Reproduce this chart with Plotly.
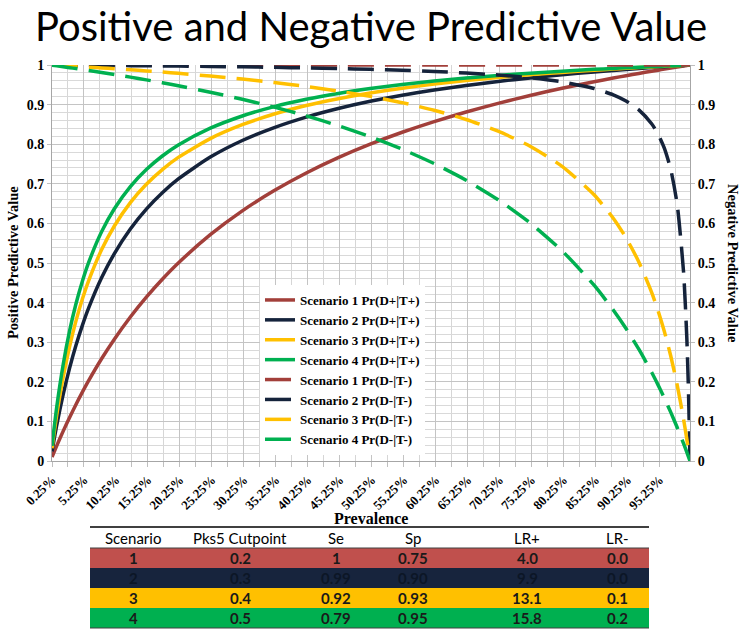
import plotly.graph_objects as go

# ---------------- data ----------------
prevalence = [0.25, 1, 2, 3, 4, 5, 6, 8, 10, 12.5, 15, 17.5, 20, 25, 30, 35, 40, 45, 50,
              55, 60, 65, 70, 75, 80, 85, 88, 90, 92, 94, 95, 96, 97, 98, 99, 99.5, 99.75, 100]

ppv1 = [0.0099, 0.0388, 0.0755, 0.1101, 0.1429, 0.1739, 0.2034, 0.2581, 0.3077, 0.3636, 0.4138,
        0.4590, 0.5000, 0.5714, 0.6316, 0.6829, 0.7273, 0.7660, 0.8000, 0.8302, 0.8571, 0.8814,
        0.9032, 0.9231, 0.9412, 0.9577, 0.9670, 0.9730, 0.9787, 0.9843, 0.9870, 0.9897, 0.9923,
        0.9949, 0.9975, 0.9987, 0.9994, 1.0]
ppv2 = [0.0242, 0.0909, 0.1681, 0.2344, 0.2920, 0.3426, 0.3872, 0.4626, 0.5238, 0.5858, 0.6360,
        0.6774, 0.7122, 0.7674, 0.8093, 0.8420, 0.8684, 0.8901, 0.9083, 0.9237, 0.9369, 0.9484,
        0.9585, 0.9674, 0.9754, 0.9825, 0.9864, 0.9889, 0.9913, 0.9936, 0.9947, 0.9958, 0.9969,
        0.9979, 0.9990, 0.9995, 0.9997, 1.0]
ppv3 = [0.0319, 0.1172, 0.2115, 0.2890, 0.3538, 0.4089, 0.4562, 0.5333, 0.5935, 0.6525, 0.6987,
        0.7360, 0.7667, 0.8142, 0.8492, 0.8762, 0.8976, 0.9149, 0.9293, 0.9414, 0.9517, 0.9606,
        0.9684, 0.9753, 0.9813, 0.9868, 0.9897, 0.9916, 0.9934, 0.9952, 0.9960, 0.9968, 0.9977,
        0.9984, 0.9992, 0.9996, 0.9998, 1.0]
ppv4 = [0.0381, 0.1376, 0.2438, 0.3283, 0.3970, 0.4540, 0.5021, 0.5788, 0.6371, 0.6930, 0.7360,
        0.7702, 0.7980, 0.8404, 0.8713, 0.8948, 0.9133, 0.9282, 0.9405, 0.9508, 0.9595, 0.9670,
        0.9736, 0.9793, 0.9844, 0.9890, 0.9914, 0.9930, 0.9945, 0.9960, 0.9967, 0.9974, 0.9980,
        0.9987, 0.9994, 0.9997, 0.9998, 1.0]

npv1 = [1.0, 1.0, 1.0, 1.0, 1.0, 1.0, 1.0, 1.0, 1.0, 1.0, 1.0, 1.0, 1.0, 1.0, 1.0, 1.0, 1.0, 1.0,
        1.0, 1.0, 1.0, 1.0, 1.0, 1.0, 1.0, 1.0, 1.0, 1.0, 1.0, 1.0, 1.0, 1.0, 1.0, 1.0, 1.0, 1.0,
        1.0, 1.0]
npv2 = [1.0000, 0.9999, 0.9998, 0.9997, 0.9995, 0.9994, 0.9993, 0.9990, 0.9988, 0.9984, 0.9980,
        0.9977, 0.9972, 0.9963, 0.9953, 0.9941, 0.9926, 0.9910, 0.9890, 0.9866, 0.9836, 0.9798,
        0.9747, 0.9677, 0.9574, 0.9408, 0.9247, 0.9091, 0.8867, 0.8517, 0.8257, 0.7895, 0.7357,
        0.6475, 0.4762, 0.3114, 0.1841, 0.0]
npv3 = [0.9998, 0.9991, 0.9982, 0.9974, 0.9964, 0.9955, 0.9945, 0.9926, 0.9905, 0.9879, 0.9851,
        0.9821, 0.9789, 0.9721, 0.9644, 0.9557, 0.9458, 0.9342, 0.9208, 0.9049, 0.8857, 0.8623,
        0.8328, 0.7949, 0.7440, 0.6723, 0.6132, 0.5636, 0.5027, 0.4260, 0.3796, 0.3263, 0.2645,
        0.1918, 0.1051, 0.0552, 0.0283, 0.0]
npv4 = [0.9995, 0.9978, 0.9955, 0.9932, 0.9909, 0.9885, 0.9861, 0.9811, 0.9760, 0.9694, 0.9625,
        0.9552, 0.9476, 0.9314, 0.9135, 0.8936, 0.8716, 0.8468, 0.8190, 0.7873, 0.7510, 0.7090,
        0.6597, 0.6013, 0.5307, 0.4439, 0.3815, 0.3345, 0.2823, 0.2241, 0.1923, 0.1586, 0.1227,
        0.0845, 0.0437, 0.0222, 0.0112, 0.0]

x_tickvals = [0.25, 5.25, 10.25, 15.25, 20.25, 25.25, 30.25, 35.25, 40.25, 45.25,
              50.25, 55.25, 60.25, 65.25, 70.25, 75.25, 80.25, 85.25, 90.25, 95.25]
x_ticktext = ["0.25%", "5.25%", "10.25%", "15.25%", "20.25%", "25.25%", "30.25%", "35.25%",
              "40.25%", "45.25%", "50.25%", "55.25%", "60.25%", "65.25%", "70.25%", "75.25%",
              "80.25%", "85.25%", "90.25%", "95.25%"]
y_tickvals = [0, 0.1, 0.2, 0.3, 0.4, 0.5, 0.6, 0.7, 0.8, 0.9, 1]
y_ticktext = ["0", "0.1", "0.2", "0.3", "0.4", "0.5", "0.6", "0.7", "0.8", "0.9", "1"]

scenario_names = ["Scenario 1", "Scenario 2", "Scenario 3", "Scenario 4"]

table_header = ["Scenario", "Pks5 Cutpoint", "Se", "Sp", "LR+", "LR-"]
tbl_scenario = ["1", "2", "3", "4"]
tbl_cutpoint = ["0.2", "0.3", "0.4", "0.5"]
tbl_se = ["1", "0.99", "0.92", "0.79"]
tbl_sp = ["0.75", "0.90", "0.93", "0.95"]
tbl_lrpos = ["4.0", "9.9", "13.1", "15.8"]
tbl_lrneg = ["0.0", "0.0", "0.1", "0.2"]

# ---------------- styling ----------------
colors = ["#A23F3A", "#15233B", "#FFC000", "#00B050"]
row_colors = ["#C0504D", "#17243D", "#FFC000", "#00B050"]
SERIF = "Liberation Serif"
SANS = "Lato"

W, H = 742, 630
L, R, T, B = 52, 690, 65, 461  # plot area in pixels


def px(x):
    return (x - L) / (R - L)


def py(y):
    return (B - y) / (B - T)


fig = go.Figure()

ppvs = [ppv1, ppv2, ppv3, ppv4]
npvs = [npv1, npv2, npv3, npv4]
for name, vals, c in zip(scenario_names, ppvs, colors):
    fig.add_trace(go.Scatter(
        x=prevalence, y=vals, mode="lines", name=f"{name} Pr(D+|T+)",
        line=dict(color=c, width=3.5, shape="spline", smoothing=0.6),
        yaxis="y"))
for name, vals, c in zip(scenario_names, npvs, colors):
    fig.add_trace(go.Scatter(
        x=prevalence, y=vals, mode="lines", name=f"{name} Pr(D-|T-)",
        line=dict(color=c, width=3.5, dash="26px,11px", shape="spline", smoothing=0.6),
        yaxis="y2"))

tickfont = dict(family=SERIF, size=14, color="#000000", weight="bold")

fig.update_layout(
    width=W, height=H,
    margin=dict(l=L, r=W - R, t=T, b=H - B, pad=0),
    paper_bgcolor="white", plot_bgcolor="white",
    showlegend=True,
    legend=dict(x=px(260), y=py(285), xanchor="left", yanchor="top",
                bgcolor="white", borderwidth=0,
                font=dict(family=SERIF, size=13, color="#000000", weight="bold"),
                tracegroupgap=0, itemwidth=30),
    xaxis=dict(range=[0.25, 100], tickmode="array", tickvals=x_tickvals, ticktext=x_ticktext,
               tickangle=-45, tickfont=dict(family=SERIF, size=13, color="#000000", weight="bold"),
               showgrid=True, gridcolor="#C4C4C4", gridwidth=1,
               minor=dict(tick0=0.25, dtick=2.5, showgrid=True, gridcolor="#D6D6D6",
                          ticks="outside", ticklen=5, tickcolor="#BFBFBF"),
               ticks="outside", ticklen=5, tickcolor="#BFBFBF",
               showline=True, linecolor="#A6A6A6", linewidth=1, zeroline=False),
    yaxis=dict(range=[0, 1], tickmode="array", tickvals=y_tickvals, ticktext=y_ticktext,
               tickfont=tickfont, showgrid=True, gridcolor="#C4C4C4", gridwidth=1,
               minor=dict(dtick=0.02, showgrid=True, gridcolor="#D9D9D9"),
               ticks="outside", ticklen=4, tickcolor="#BFBFBF",
               showline=True, linecolor="#A6A6A6", linewidth=1, zeroline=False),
    yaxis2=dict(range=[0, 1], tickmode="array", tickvals=y_tickvals, ticktext=y_ticktext,
                overlaying="y", side="right", tickfont=tickfont, showgrid=False,
                ticks="outside", ticklen=4, tickcolor="#BFBFBF",
                showline=True, linecolor="#A6A6A6", linewidth=1, zeroline=False),
)

annotations = [
    dict(text="Positive and Negative Predictive Value", x=px(371), y=py(0),
         xref="paper", yref="paper", showarrow=False, xanchor="center", yanchor="top",
         font=dict(family=SANS, size=40, color="#000000")),
    dict(text="Positive Predictive Value", x=px(13), y=py(263), xref="paper", yref="paper",
         textangle=-90, showarrow=False, xanchor="center", yanchor="middle",
         font=dict(family=SERIF, size=14.5, color="#000000", weight="bold")),
    dict(text="Negative Predictive Value", x=px(733), y=py(263), xref="paper", yref="paper",
         textangle=90, showarrow=False, xanchor="center", yanchor="middle",
         font=dict(family=SERIF, size=14.5, color="#000000", weight="bold")),
    dict(text="Prevalence", x=px(371), y=py(518), xref="paper", yref="paper",
         showarrow=False, xanchor="center", yanchor="middle",
         font=dict(family=SERIF, size=16, color="#000000", weight="bold")),
]

# ---------------- summary table below the chart ----------------
tbl_left, tbl_right = 90, 649
col_centers = [133, 240, 336, 413, 527, 617]
header_y = 538
row_tops = [548, 568, 588, 608]
row_h = 20

shapes = []
for top, rc in zip(row_tops, row_colors):
    shapes.append(dict(type="rect", xref="paper", yref="paper",
                       x0=px(tbl_left), x1=px(tbl_right), y0=py(top + row_h), y1=py(top),
                       fillcolor=rc, line=dict(width=0), layer="above"))
shapes.append(dict(type="line", xref="paper", yref="paper", x0=px(tbl_left), x1=px(tbl_right),
                   y0=py(527), y1=py(527), line=dict(color="#404040", width=2)))
shapes.append(dict(type="line", xref="paper", yref="paper", x0=px(tbl_left), x1=px(tbl_right),
                   y0=py(548), y1=py(548), line=dict(color="#404040", width=1)))
shapes.append(dict(type="line", xref="paper", yref="paper", x0=px(tbl_left), x1=px(tbl_right),
                   y0=py(628), y1=py(628), line=dict(color="#404040", width=1)))

for txt, cx in zip(table_header, col_centers):
    annotations.append(dict(text=txt, x=px(cx), y=py(header_y), xref="paper", yref="paper",
                            showarrow=False, xanchor="center", yanchor="middle",
                            font=dict(family=SANS, size=15, color="#000000")))

columns = [tbl_scenario, tbl_cutpoint, tbl_se, tbl_sp, tbl_lrpos, tbl_lrneg]
for i, top in enumerate(row_tops):
    tcolor = "#0C1626" if i == 1 else "#1A1A1A"
    for col, cx in zip(columns, col_centers):
        annotations.append(dict(text=col[i], x=px(cx), y=py(top + row_h / 2),
                                xref="paper", yref="paper", showarrow=False,
                                xanchor="center", yanchor="middle",
                                font=dict(family=SANS, size=15, color=tcolor, weight="bold")))

fig.update_layout(annotations=annotations, shapes=shapes)

fig.write_html("out.html", config={"displayModeBar": False},
               post_script="document.body.style.margin='0';document.body.style.overflow='hidden';")
